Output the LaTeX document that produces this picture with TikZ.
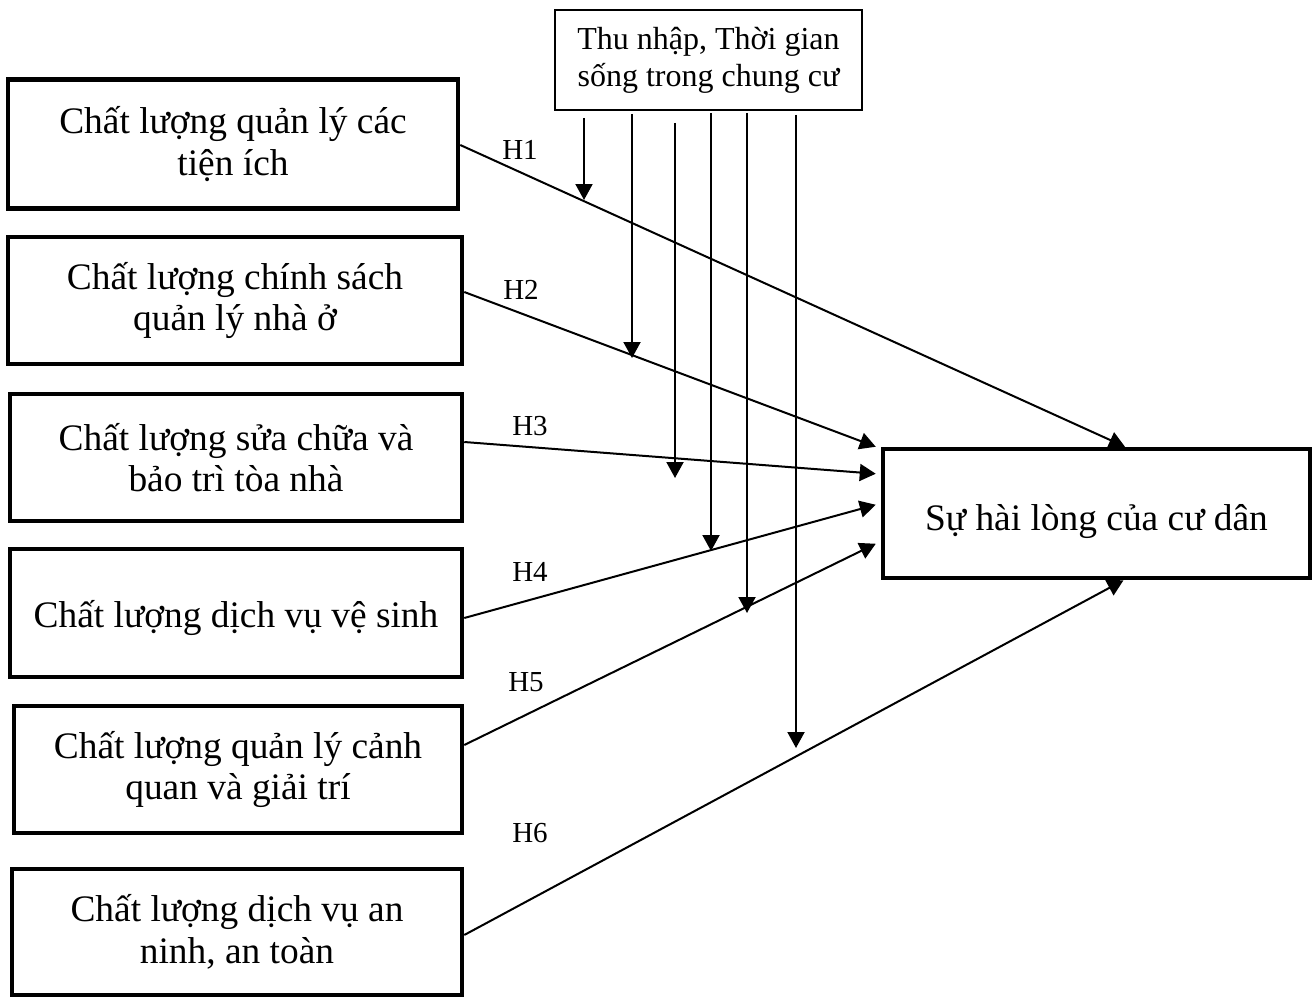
\documentclass[tikz,border=0pt]{standalone}
\usepackage{fontspec}
\setmainfont{Liberation Serif}
\usetikzlibrary{arrows.meta}
\begin{document}
\begin{tikzpicture}[x=1pt,y=-1pt,
  box/.style={draw,line width=4.5pt,align=center,inner sep=0pt,
    font=\fontsize{37.4}{41.5}\selectfont},
  modbox/.style={draw,line width=1.8pt,align=center,inner sep=0pt,
    font=\fontsize{32}{37}\selectfont},
  hlab/.style={font=\fontsize{29}{30}\selectfont,inner sep=0pt},
  arr/.style={line width=2pt,-{Triangle[length=16pt,width=17pt]}}]
\useasboundingbox (0,0) rectangle (1314,998);
\node[box,minimum width=450pt,minimum height=129pt] (B1) at (233,144) {Chất lượng quản lý các\\tiện ích};
\node[box,minimum width=454pt,minimum height=127pt] (B2) at (235,300.5) {Chất lượng chính sách\\quản lý nhà ở};
\node[box,minimum width=452pt,minimum height=127pt] (B3) at (236,457.5) {Chất lượng sửa chữa và\\bảo trì tòa nhà};
\node[box,minimum width=452pt,minimum height=128pt,text height=32pt,text depth=4pt] (B4) at (236,613) {Chất lượng dịch vụ vệ sinh};
\node[box,minimum width=448pt,minimum height=127pt] (B5) at (238,769.5) {Chất lượng quản lý cảnh\\quan và giải trí};
\node[box,minimum width=450pt,minimum height=126pt] (B6) at (237,932) {Chất lượng dịch vụ an\\ninh, an toàn};
\node[box,minimum width=427pt,minimum height=129pt,text height=35pt,text depth=2pt] (R) at (1096.5,513.5) {Sự hài lòng của cư dân};
\node[modbox,minimum width=307pt,minimum height=100pt] (T) at (708.5,60) {Thu nhập, Thời gian\\sống trong chung cư};

\node[hlab] (L1) at (520,150) {H1};
\node[hlab] (L2) at (521,290) {H2};
\node[hlab] (L3) at (530,426) {H3};
\node[hlab] (L4) at (530,572) {H4};
\node[hlab] (L5) at (526,682) {H5};
\node[hlab] (L6) at (530,833) {H6};

\draw[arr] ([yshift=-1pt]B1.east) -- ([xshift=28.5pt]R.north);
\draw[arr] ([yshift=8.5pt]B2.east) -- ([xshift=-5pt]R.north west);
\draw[arr] ([yshift=15.5pt]B3.east) -- ([xshift=-5pt,yshift=-27pt]R.north west);
\draw[arr] ([yshift=-5pt]B4.east) -- ([xshift=-5pt,yshift=-58pt]R.north west);
\draw[arr] ([yshift=24.5pt]B5.east) -- ([xshift=-5pt,yshift=-97pt]R.north west);
\draw[arr] ([yshift=-3pt]B6.east) -- ([xshift=27pt]R.south);

\coordinate (m1) at (584,200);
\coordinate (m2) at (632,358);
\coordinate (m3) at (675,478);
\coordinate (m4) at (711,551);
\coordinate (m5) at (747,613);
\coordinate (m6) at (796,748);
\draw[arr,shorten <=7pt] (T.south -| m1) -- (m1);
\draw[arr,shorten <=3pt] (T.south -| m2) -- (m2);
\draw[arr,shorten <=12pt] (T.south -| m3) -- (m3);
\draw[arr,shorten <=2pt] (T.south -| m4) -- (m4);
\draw[arr,shorten <=2pt] (T.south -| m5) -- (m5);
\draw[arr,shorten <=4pt] (T.south -| m6) -- (m6);
\end{tikzpicture}
\end{document}
